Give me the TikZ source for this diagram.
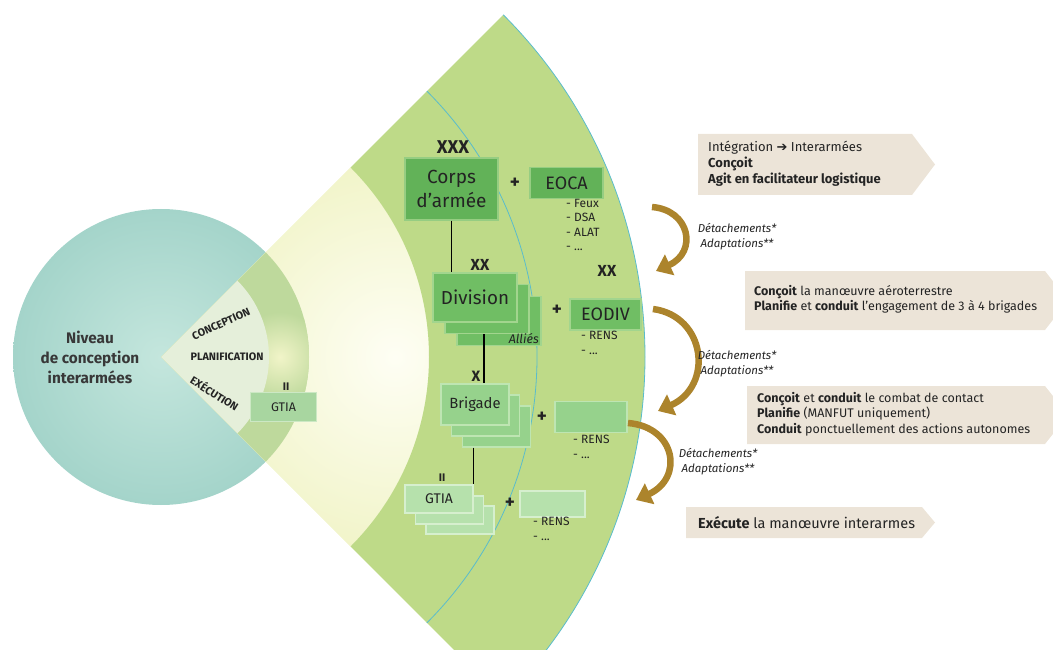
\documentclass[tikz,border=0pt]{standalone}
\usepackage{fontspec}
\setmainfont{Fira Sans}
\newfontfamily\symfont{DejaVu Sans}
\usetikzlibrary{arrows.meta,calc}
\definecolor{teal1}{RGB}{164,212,202}
\definecolor{teal2}{RGB}{196,230,221}
\definecolor{ringg}{RGB}{190,218,136}
\definecolor{paley}{RGB}{241,244,200}
\definecolor{whitey}{RGB}{254,254,244}
\definecolor{overlap}{RGB}{190,217,156}
\definecolor{palesec}{RGB}{229,239,218}
\definecolor{bluel}{RGB}{90,188,204}
\definecolor{gcorps}{RGB}{98,178,88}
\definecolor{gcorpsb}{RGB}{150,205,130}
\definecolor{gdiv}{RGB}{112,190,100}
\definecolor{gdivb}{RGB}{162,213,142}
\definecolor{gbri}{RGB}{150,210,140}
\definecolor{gbrib}{RGB}{190,229,178}
\definecolor{ggtia}{RGB}{182,225,172}
\definecolor{ggtiab}{RGB}{214,239,206}
\definecolor{gleft}{RGB}{168,214,160}
\definecolor{gleftb}{RGB}{204,232,196}
\definecolor{beige}{RGB}{236,228,216}
\definecolor{gold}{RGB}{172,132,44}
\definecolor{txt}{RGB}{35,35,35}
\tikzset{
  corpsbox/.style={draw=gcorpsb, fill=gcorps, line width=1.2pt},
  divbox/.style={draw=gdivb, fill=gdiv, line width=1.2pt, minimum width=84, minimum height=49},
  bribox/.style={draw=gbrib, fill=gbri, line width=1.2pt, minimum width=68, minimum height=41},
  gtiabox/.style={draw=ggtiab, fill=ggtia, line width=1.2pt, minimum width=68, minimum height=28},
  echelon/.style={font=\bfseries\fontsize{16}{18}\selectfont},
  plus/.style={font=\bfseries\fontsize{19}{20}\selectfont},
  listtxt/.style={anchor=north west, align=left, font=\fontsize{12}{14.5}\selectfont},
  beigebox/.style={fill=beige},
  infotxt/.style={anchor=west, align=left, font=\fontsize{12.5}{15}\selectfont},
  detach/.style={align=center, font=\itshape\fontsize{11.5}{15}\selectfont},
  goldarrow/.style={draw=gold, line width=6.5pt, -{Triangle[width=22pt,length=15pt]}},
  orgline/.style={draw=black, line width=1.4pt},
  wedgelbl/.style={font=\bfseries\fontsize{10.8}{12}\selectfont}
}
\begin{document}
\begin{tikzpicture}[x=1pt,y=-1pt, every node/.style={text=txt, inner sep=0pt}]
\useasboundingbox (0,0) rectangle (1053,650);
\clip (0,0) rectangle (1053,650);
\coordinate (O) at (161,357);
% circle
\shade[inner color=teal2, outer color=teal1] (O) circle[radius=148];
% yellow wedge
\fill[paley] (O) -- ($(O)+(45:268)$) arc[start angle=45,end angle=-45,radius=268] -- cycle;
\begin{scope}
  \clip (O) -- ($(O)+(45:268)$) arc[start angle=45,end angle=-45,radius=268] -- cycle;
  \shade[inner color=whitey, outer color=paley] (395,357) circle[radius=200];
\end{scope}
% overlap ring inside circle
\begin{scope}
  \clip (O) circle[radius=148];
  \fill[overlap] (O) -- ($(O)+(45:268)$) arc[start angle=45,end angle=-45,radius=268] -- cycle;
  \shade[inner color=paley, outer color=overlap] (280,357) circle[radius=45];
\end{scope}
\fill[palesec] (O) -- ($(O)+(45:108)$) arc[start angle=45,end angle=-45,radius=108] -- cycle;
% green ring
\fill[ringg] ($(O)+(45:268)$) -- ($(O)+(45:484)$) arc[start angle=45,end angle=-45,radius=484]
   -- ($(O)+(-45:268)$) arc[start angle=-45,end angle=45,radius=268] -- cycle;
\draw[bluel, line width=0.8pt] ($(O)+(45:376)$) arc[start angle=45,end angle=-45,radius=376];
\draw[bluel, line width=0.8pt] ($(O)+(45:484)$) arc[start angle=45,end angle=-45,radius=484];

% circle texts
\node[align=center, font=\bfseries\fontsize{15.3}{20}\selectfont, text=black!78] (niveau) at (90,357) {Niveau\\de conception\\interarmées};
\node[wedgelbl, rotate=24] (concep) at (221,324) {CONCEPTION};
\node[wedgelbl] (planif) at (227,357) {PLANIFICATION};
\node[wedgelbl, rotate=-32] (exec) at (215,393) {EXÉCUTION};
\node[draw=gleftb, fill=gleft, line width=1.2pt, minimum width=66, minimum height=29, font=\fontsize{12.5}{14}\selectfont] (gtl) at (283.5,407) {GTIA};
\node[font=\bfseries\fontsize{11}{12}\selectfont] (iil) at (286,387) {II};

% corps level
\node[font=\bfseries\fontsize{18.5}{20}\selectfont] (xxx) at (453,147) {XXX};
\node[corpsbox, minimum width=93, minimum height=62, align=center, font=\fontsize{19}{24}\selectfont] (corps) at (451.5,189) {Corps\\d'armée};
\node[plus] (p1) at (515,183) {+};
\node[corpsbox, minimum width=73, minimum height=31, font=\fontsize{18}{20}\selectfont] (eoca) at (566.5,183) {EOCA};
\node[listtxt] (l1) at (566,199) {- Feux\\- DSA\\- ALAT\\- ...};

% division level
\node[divbox] (div3) at (499,321) {};
\node[divbox] (div2) at (487,309) {};
\node[divbox, font=\fontsize{18.8}{20}\selectfont] (div1) at (475,297.5) {Division};
\node[anchor=east, font=\itshape\fontsize{12.5}{14}\selectfont] (allies) at (539,339) {Alliés};
\node[echelon] (xx1) at (480,265) {XX};
\draw[orgline] (corps.south) -- (corps.south |- div1.north);
\node[plus] (p2) at (557,310) {+};
\node[divbox, minimum width=71, minimum height=31, font=\fontsize{18}{20}\selectfont] (eodiv) at (605.5,314.5) {EODIV};
\node[echelon] (xx2) at (607,271) {XX};
\node[listtxt] (l2) at (581,331) {- RENS\\- ...};

% brigade level
\coordinate (lx) at (484,0);
\node[bribox] (bri3) at (496.5,426.5) {};
\node[bribox] (bri2) at (485.5,415.5) {};
\node[bribox, font=\fontsize{14.8}{16}\selectfont] (bri1) at (475,404.5) {Brigade};
\draw[orgline] (div2.south -| lx) -- (bri1.north -| lx);
\node[font=\bfseries\fontsize{15}{16}\selectfont] (x1) at (476,376) {X};
\node[plus] (p3) at (542,417) {+};
\node[bribox, minimum width=72, minimum height=31] (ebri) at (591,417) {};
\node[listtxt] (l3) at (573,435) {- RENS\\- ...};

% GTIA level
\node[gtiabox] (gt3) at (460,520) {};
\node[gtiabox] (gt2) at (449.5,510) {};
\node[gtiabox, font=\fontsize{14}{15}\selectfont] (gt1) at (439,499) {GTIA};
\draw[orgline] (bri3.south -| gt1.north east) -- (gt1.north east);
\node[font=\bfseries\fontsize{11}{12}\selectfont] (ii2) at (442,478) {II};
\node[plus] (p4) at (510,503) {+};
\node[gtiabox, minimum width=65, minimum height=26] (egt) at (552.5,504) {};
\node[listtxt] (l4) at (533,517) {- RENS\\- ...};

% right info boxes
\fill[beigebox] (698,134) -- (912,134) -- (935,164.5) -- (912,195) -- (698,195) -- cycle;
\node[infotxt, font=\fontsize{13}{16}\selectfont] (t1) at (708,164) {Intégration {\symfont\bfseries ➔} Interarmées\\\textbf{Conçoit}\\\textbf{Agit en facilitateur logistique}};
\fill[beigebox] (745,271) -- (1045,271) -- (1068,300.5) -- (1045,330) -- (745,330) -- cycle;
\node[infotxt] (t2) at (754,299) {\textbf{Conçoit} la manœuvre aéroterrestre\\\textbf{Planifie} et \textbf{conduit} l'engagement de 3 à 4 brigades};
\fill[beigebox] (747,386) -- (1045,386) -- (1068,415) -- (1045,444) -- (747,444) -- cycle;
\node[infotxt, font=\fontsize{12.5}{15.5}\selectfont] (t3) at (757,414) {\textbf{Conçoit} et \textbf{conduit} le combat de contact\\\textbf{Planifie} (MANFUT uniquement)\\\textbf{Conduit} ponctuellement des actions autonomes};
\fill[beigebox] (686,507) -- (922,507) -- (935,522.5) -- (922,538) -- (686,538) -- cycle;
\node[infotxt, font=\fontsize{14.5}{16}\selectfont] (t4) at (698,523) {\textbf{Exécute} la manœuvre interarmes};

% gold arrows
\coordinate (a1s) at (652,207);
\coordinate (a1e) at (656,271);
\draw[goldarrow] (a1s) .. controls (690,210) and (698,252) .. (a1e);
\node[detach] (d1) at (737,237) {Détachements*\\Adaptations**};
\coordinate (a2s) at (653,309);
\coordinate (a2e) at (658,411);
\draw[goldarrow] (a2s) .. controls (706,316) and (714,386) .. (a2e);
\node[detach] (d2) at (737,364) {Détachements*\\Adaptations**};
\coordinate (a3s) at (628,423);
\coordinate (a3e) at (636,500);
\draw[goldarrow] (a3s) .. controls (676,427) and (684,478) .. (a3e);
\node[detach] (d3) at (718,462) {Détachements*\\Adaptations**};
\end{tikzpicture}
\end{document}
